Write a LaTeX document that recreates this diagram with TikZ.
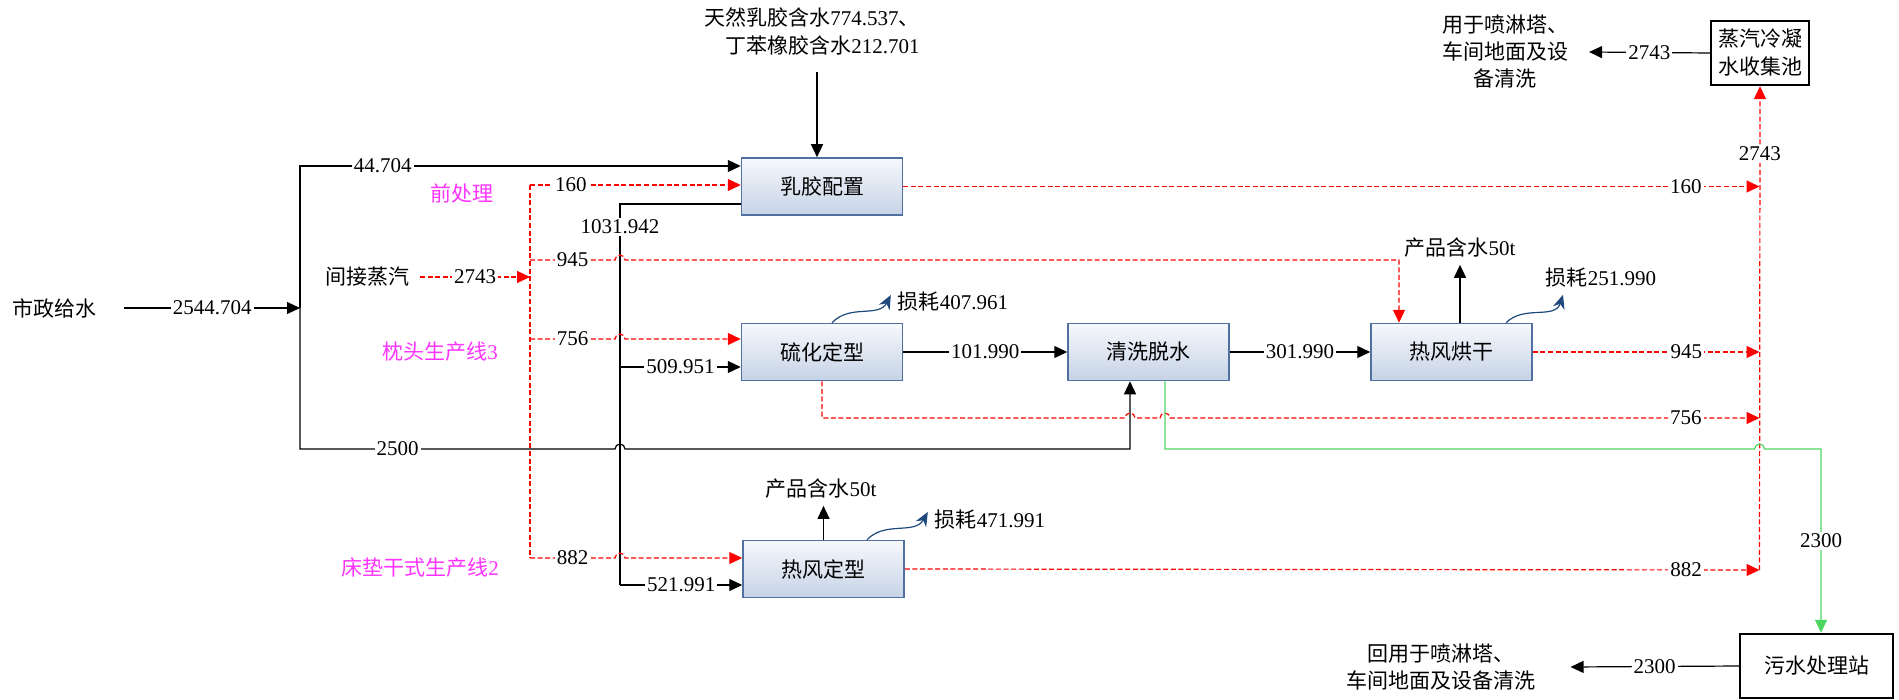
\documentclass[tikz,border=0pt]{standalone}
\usepackage{fontspec}
\setmainfont{Liberation Serif}
\newfontfamily\cjk{Noto Sans CJK SC}
\usepackage{tikz}
\usetikzlibrary{arrows.meta,positioning,calc}
\definecolor{boxblue}{RGB}{79,112,160}
\definecolor{boxtop}{RGB}{246,248,252}
\definecolor{boxbottom}{RGB}{198,211,230}
\definecolor{steamred}{RGB}{255,0,0}
\definecolor{draingreen}{RGB}{77,214,96}
\definecolor{lossblue}{RGB}{31,73,125}
\definecolor{zonepink}{RGB}{255,51,255}
\newcommand{\zh}[1]{{\cjk #1}}

\begin{document}
\begin{tikzpicture}[
  x=0.5pt, y=-0.5pt,
  font=\fontsize{10.5}{12.6}\selectfont,
  procbox/.style={rectangle, draw=boxblue, line width=0.75pt, top color=boxtop, bottom color=boxbottom, minimum width=80.5pt, minimum height=28.5pt, align=center, font=\cjk\fontsize{10.5}{12.6}\selectfont},
  tankbox/.style={rectangle, draw=black, line width=1.2pt, fill=white, align=center, inner sep=2pt, font=\cjk\fontsize{10.5}{14}\selectfont},
  lbl/.style={fill=white, inner sep=1pt},
  zone/.style={text=zonepink},
  pipe/.style={line width=0.6pt, draw=black},
  flow/.style={pipe, -{Triangle[length=6.5pt,width=6pt]}},
  steamline/.style={line width=0.6pt, draw=steamred, dash pattern=on 2.5pt off 1.3pt},
  steamflow/.style={steamline, -{Triangle[length=6.5pt,width=6pt]}},
  drainflow/.style={line width=0.6pt, draw=draingreen, -{Triangle[length=6.5pt,width=6pt]}},
  lossflow/.style={line width=0.6pt, draw=lossblue, -{Stealth[length=7pt,width=6pt]}}
]
\useasboundingbox (0,0) rectangle (1899,700);

% process units
\node[procbox] (latex) at (822,186.5) {乳胶配置};
\node[procbox] (vulc) at (822,352) {硫化定型};
\node[procbox] (wash) at (1148.5,352) {清洗脱水};
\node[procbox] (dryer) at (1451.5,352) {热风烘干};
\node[procbox] (hotset) at (823.5,569) {热风定型};
\node[tankbox, minimum width=49pt, minimum height=32pt] (pool) at (1760,53) {蒸汽冷凝\\水收集池};
\node[tankbox, minimum width=76.5pt, minimum height=32pt] (sewage) at (1816.5,666) {污水处理站};

% texts
\node (city) at (54,308) {\zh{市政给水}};
\node[align=right, font=\fontsize{10.5}{14}\selectfont] (rubber) at (812,31) {\zh{天然乳胶含水}774.537\zh{、}\\\zh{丁苯橡胶含水}212.701};
\node (steam) at (367,277) {\zh{间接蒸汽}};
\node[zone] (pre) at (462,193) {\zh{前处理}};
\node[zone] (pillow) at (440,352) {\zh{枕头生产线}3};
\node[zone] (mattress) at (420,568) {\zh{床垫干式生产线}2};
\node (prodA) at (821,489) {\zh{产品含水}50t};
\node (prodB) at (1460,248) {\zh{产品含水}50t};
\node (lossA) at (953,302) {\zh{损耗}407.961};
\node (lossB) at (990,520) {\zh{损耗}471.991};
\node (lossC) at (1601,278) {\zh{损耗}251.990};
\node[align=center, font=\cjk\fontsize{10.5}{13.5}\selectfont] (reuseA) at (1505,52) {用于喷淋塔、\\车间地面及设\\备清洗};
\node[align=center, font=\cjk\fontsize{10.5}{13.5}\selectfont] (reuseB) at (1441,667) {回用于喷淋塔、\\车间地面及设备清洗};

\coordinate (split) at (300,308);
\coordinate (rtop) at (530,185);
\coordinate (rbot) at (530,558);
\coordinate (bbot) at (620,585);
\coordinate (coll) at (1759.5,570);

% municipal water
\draw[flow] ([xshift=10.7pt]city.east) -- node[lbl]{2544.704} (split);
\draw[flow] (split) |- node[lbl,pos=0.594]{44.704} ([yshift=10.25pt]latex.west);
\draw[flow] (split) -- (300,449) -- node[lbl,pos=0.31]{2500} (615,449) arc(180:360:5) -| ([xshift=-9.25pt]wash.south);
\draw[flow, shorten <=5pt] ([xshift=-2.5pt]latex.north |- rubber.south) -- ([xshift=-2.5pt]latex.north);
\draw[pipe] ([yshift=-8.75pt]latex.west) -| node[lbl,pos=0.53]{1031.942} (bbot);
\draw[flow] (620,367) -- node[lbl]{509.951} ([yshift=-7.5pt]vulc.west);
\draw[flow] (bbot) -- node[lbl]{521.991} ([yshift=-8pt]hotset.west);

% steam
\draw[steamflow] ([xshift=2pt]steam.east) -- node[lbl]{2743} (530,277);
\draw[steamline] (rtop) -- (rbot);
\draw[steamflow] (rtop) -- node[lbl,pos=0.194]{160} ([yshift=0.75pt]latex.west);
\draw[steamflow] (530,260) -- node[lbl]{945} (615,260) arc(180:360:5) -| ([xshift=-26.25pt]dryer.north);
\draw[steamflow] (530,339) -- node[lbl]{756} (615,339) arc(180:360:5) -- ([yshift=6.5pt]vulc.west);
\draw[steamflow] (rbot) -- node[lbl]{882} (615,558) arc(180:360:5) -- ([yshift=5.5pt]hotset.west);

% main line
\draw[flow] (vulc) -- node[lbl]{101.990} (wash);
\draw[flow] (wash) -- node[lbl]{301.990} (dryer);
\draw[flow] (hotset.north) -- (hotset.north |- prodA.south);
\draw[flow] ([xshift=4.25pt]dryer.north) -- ([xshift=4.25pt]dryer.north |- prodB.south);

% losses
\draw[lossflow] ([xshift=5pt]vulc.north) .. controls +(18,-19) and +(-12,23) .. ([yshift=3.5pt]lossA.west);
\draw[lossflow] ([xshift=21.75pt]hotset.north) .. controls +(18,-19) and +(-13,23) .. ([yshift=4pt]lossB.west);
\draw[lossflow] ([xshift=27.25pt]dryer.north) .. controls +(18,-18) and +(-8,25) .. ([xshift=-19pt]lossC.south);

% condensate
\draw[steamflow] (latex.east) -- node[lbl,pos=0.914]{160} (1759.5,186.5);
\draw[steamflow] (dryer.east) -- node[lbl,pos=0.677]{945} (1759.5,352);
\draw[steamflow] (vulc.south) |- (1125,418) arc(180:360:5) -- (1160,418) arc(180:360:5) -- node[lbl,pos=0.875]{756} (1759.5,418);
\draw[steamflow] (hotset.east) -- node[lbl,pos=0.914]{882} (coll);
\draw[steamflow] (coll) -- node[lbl,pos=0.86]{2743} (pool.south);
\draw[flow] (pool.west) -- node[lbl]{2743} ([xshift=7pt]reuseA.east);

% waste water
\draw[drainflow] ([xshift=8.25pt]wash.south) |- (1754.5,449) arc(180:360:5) -- (1821,449) -- node[lbl]{2300} ([xshift=2.25pt]sewage.north);
\draw[flow] (sewage.west) -- node[lbl]{2300} ([xshift=14pt]reuseB.east);
\end{tikzpicture}
\end{document}
